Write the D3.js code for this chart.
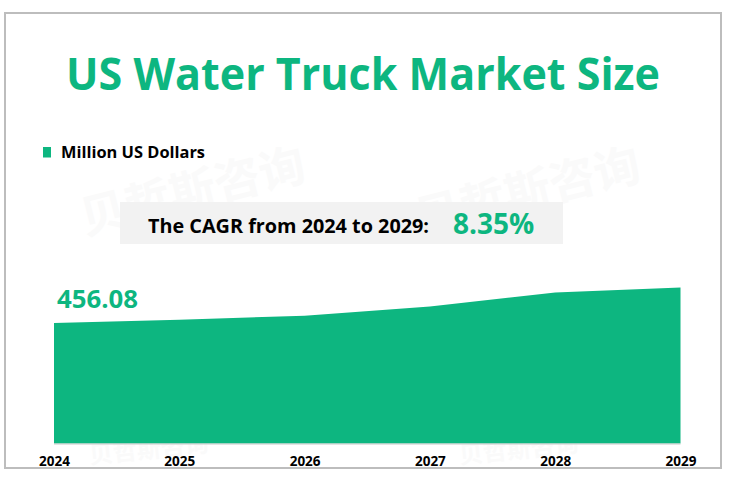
<!DOCTYPE html>
<html><head><meta charset="utf-8">
<script src="https://cdn.jsdelivr.net/npm/d3@7"></script>
<style>html,body{margin:0;padding:0;background:#fff}svg{display:block}text{font-family:"Open Sans","Noto Sans",sans-serif;font-weight:700}</style>
</head><body><script>
const years=["2024","2025","2026","2027","2028","2029"];
const values=[456.08,469,484,519,572,591];
const title="US Water Truck Market Size";
const legendLabel="Million US Dollars";
const cagrLabel="The CAGR from 2024 to 2029:";
const cagrValue="8.35%";
const watermark="贝哲斯咨询";
const green="#0DB680";
const svg=d3.select("body").append("svg").attr("width",729).attr("height",479);
svg.append("rect").attr("x",5).attr("y",13).attr("width",716).attr("height",455).attr("fill","#fff").attr("stroke","#bdbdbd").attr("stroke-width",2);
[[85,235,46,-14],[420,235,46,-14],[90,464,24,-6],[460,464,24,-6]].forEach(p=>{
 svg.append("text").attr("transform",`translate(${p[0]},${p[1]}) rotate(${p[3]})`).attr("font-size",p[2]).attr("fill","#fafafa").style("font-family","'Noto Sans CJK SC'").text(watermark);
});
const x=d3.scalePoint().domain(years).range([54,680.5]);
const y=d3.scaleLinear().domain([0,591]).range([443.5,287.5]);
svg.append("text").attr("x",66).attr("y",90).attr("font-size",45).attr("textLength",594).attr("lengthAdjust","spacingAndGlyphs").attr("fill",green).text(title);
svg.append("rect").attr("x",43).attr("y",147).attr("width",8).attr("height",10.5).attr("fill",green);
svg.append("text").attr("x",61).attr("y",157.5).attr("font-size",15.5).attr("textLength",144).attr("lengthAdjust","spacingAndGlyphs").attr("fill","#000").text(legendLabel);
svg.append("rect").attr("x",120).attr("y",202).attr("width",443).attr("height",42).attr("fill","#f2f2f2");
svg.append("text").attr("x",148).attr("y",233).attr("font-size",19.5).attr("textLength",281).attr("lengthAdjust","spacingAndGlyphs").attr("fill","#000").text(cagrLabel);
svg.append("text").attr("x",453).attr("y",234).attr("font-size",28).attr("fill",green).text(cagrValue);
const area=d3.area().x((d,i)=>x(years[i])).y0(y(0)).y1(d=>y(d));
svg.append("path").datum(values).attr("d",area).attr("fill",green);
svg.append("line").attr("x1",54).attr("x2",680.5).attr("y1",444).attr("y2",444).attr("stroke","#c8c8c8").attr("stroke-width",1);
svg.append("text").attr("x",57).attr("y",308).attr("font-size",25.8).attr("fill",green).text(d3.format(".2f")(values[0]));
const ax=svg.append("g").attr("transform","translate(0,444)").call(d3.axisBottom(x).tickSize(0).tickPadding(12));
ax.select(".domain").remove();
ax.selectAll("text").attr("font-size",13.5).attr("fill","#000").style("font-family","'Open Sans',sans-serif").style("font-weight",700);
</script></body></html>
